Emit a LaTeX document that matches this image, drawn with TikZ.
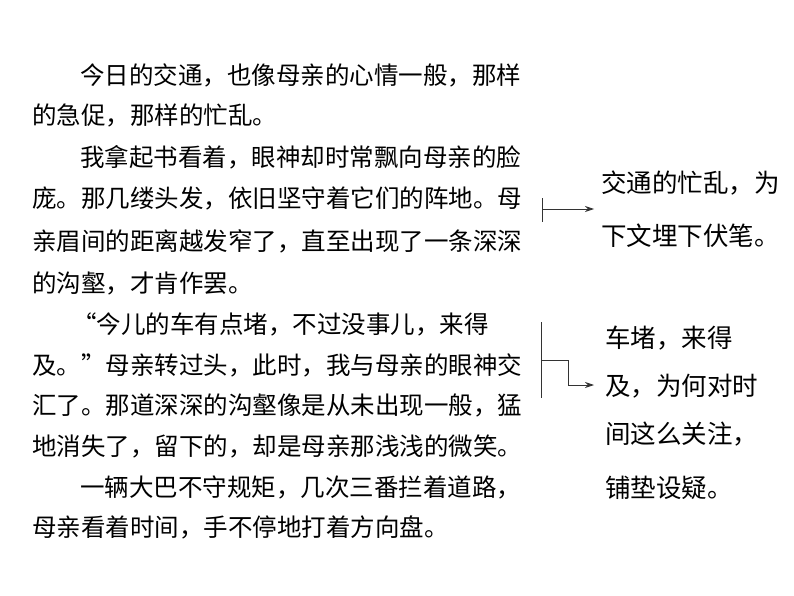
\documentclass[tikz,border=0pt]{standalone}
\usepackage{fontspec}
\usetikzlibrary{arrows.meta}
\newfontfamily\cjk{Noto Sans CJK SC}
\begin{document}
\begin{tikzpicture}[x=1pt,y=-1pt,
  txt/.style={anchor=west,inner sep=0pt,font=\cjk\fontsize{24.5}{28}\selectfont},
  rtxt/.style={anchor=west,inner sep=0pt,font=\cjk\fontsize{25.5}{29}\selectfont},
  conn/.style={draw=black!80,line width=0.9pt},
  arr/.style={conn,-{Stealth[length=9pt,width=6pt]}}]
\useasboundingbox (0,0) rectangle (794,596);
\node[txt] (l1) at (80,75) {今日的交通，也像母亲的心情一般，那样};
\node[txt] (l2) at (32,115) {的急促，那样的忙乱。};
\node[txt] (l3) at (80,157) {我拿起书看着，眼神却时常飘向母亲的脸};
\node[txt] (l4) at (32,198) {庞。那几缕头发，依旧坚守着它们的阵地。母};
\node[txt] (l5) at (32,241) {亲眉间的距离越发窄了，直至出现了一条深深};
\node[txt] (l6) at (32,283) {的沟壑，才肯作罢。};
\node[txt] (l7) at (72,324) {“今儿的车有点堵，不过没事儿，来得};
\node[txt] (l8) at (32,365) {及。”母亲转过头，此时，我与母亲的眼神交};
\node[txt] (l9) at (32,405) {汇了。那道深深的沟壑像是从未出现一般，猛};
\node[txt] (l10) at (32,446) {地消失了，留下的，却是母亲那浅浅的微笑。};
\node[txt] (l11) at (80,487) {一辆大巴不守规矩，几次三番拦着道路，};
\node[txt] (l12) at (32,527) {母亲看着时间，手不停地打着方向盘。};
\node[rtxt] (r1) at (601,183) {交通的忙乱，为};
\node[rtxt] (r2) at (601,236) {下文埋下伏笔。};
\node[rtxt] (s1) at (605,338) {车堵，来得};
\node[rtxt] (s2) at (605,386) {及，为何对时};
\node[rtxt] (s3) at (605,434) {间这么关注，};
\node[rtxt] (s4) at (605,488) {铺垫设疑。};
\coordinate (a1) at (542,198); \coordinate (a2) at (542,222);
\coordinate (a0) at (542,209); \coordinate (ae) at (594,209);
\draw[conn] (a1) -- (a2);
\draw[arr] (a0) -- (ae);
\coordinate (b1) at (541,322); \coordinate (b2) at (541,398);
\coordinate (b0) at (541,360); \coordinate (be) at (594,385);
\draw[conn] (b1) -- (b2);
\draw[arr] (b0) -- (568,360) -- (568,385) -- (be);
\end{tikzpicture}
\end{document}
